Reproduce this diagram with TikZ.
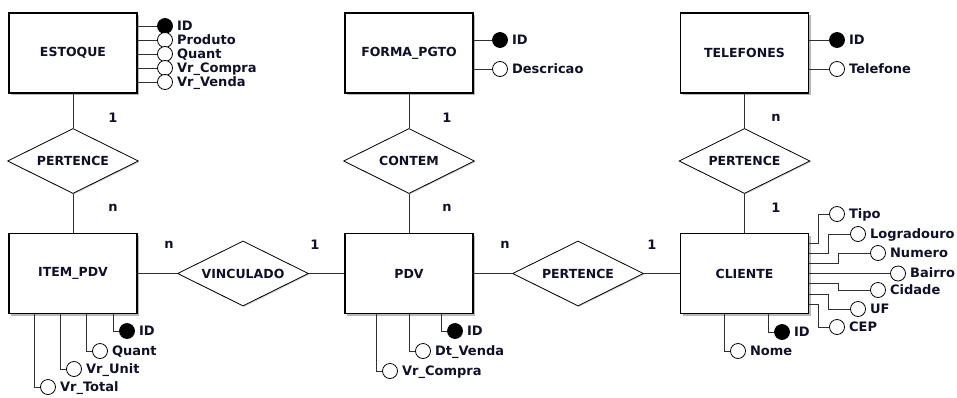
\documentclass[tikz,border=0pt]{standalone}
\usepackage{fontspec}
\setmainfont{DejaVu Sans}
\usetikzlibrary{shapes.geometric,shadows}
\definecolor{txt}{HTML}{10102A}
\definecolor{wire}{HTML}{303030}

\begin{document}
\begin{tikzpicture}[x=1pt,y=-1pt,
  boxshadow/.style={general shadow={fill=black!28, shadow xshift=2pt, shadow yshift=-2pt}},
  entity/.style={draw=black, line width=1.1pt, fill=white, boxshadow,
    minimum width=128pt, minimum height=80pt, inner sep=0pt,
    font=\fontsize{12.5}{14}\selectfont\bfseries, text=txt},
  relation/.style={diamond, aspect=2, draw=black, line width=0.8pt, fill=white,
    general shadow={fill=black!20, shadow xshift=1pt, shadow yshift=-1pt},
    minimum width=131pt, minimum height=65pt, inner sep=0pt,
    font=\fontsize{12.5}{14}\selectfont\bfseries, text=txt},
  attr/.style={circle, draw=black, line width=0.8pt, fill=white,
    minimum size=15pt, inner sep=0pt},
  keyattr/.style={attr, fill=black},
  card/.style={font=\fontsize{13}{15}\selectfont\bfseries, text=txt, inner sep=0pt},
  conn/.style={draw=wire, line width=0.9pt},
  every label/.style={font=\fontsize{13}{15}\selectfont\bfseries, text=txt,
    inner sep=0pt, text height=9.5pt, text depth=1pt},
  label distance=4pt]

\useasboundingbox (0,0) rectangle (957,397);

% entities
\node[entity] (est)  at (73,53)      {ESTOQUE};
\node[entity] (fpg)  at (409,53)     {FORMA\_PGTO};
\node[entity] (tel)  at (744.5,53)   {TELEFONES};
\node[entity] (item) at (73,273.5)   {ITEM\_PDV};
\node[entity] (pdv)  at (409,273.5)  {PDV};
\node[entity] (cli)  at (744.5,273.5){CLIENTE};

% relationships
\node[relation] (r1) at (73,161)     {PERTENCE};
\node[relation] (r2) at (409,161)    {CONTEM};
\node[relation] (r3) at (744.5,161)  {PERTENCE};
\node[relation] (r4) at (243,273.5)  {VINCULADO};
\node[relation] (r5) at (578,273.5)  {PERTENCE};

\draw[conn] (est) -- (r1) -- (item);
\draw[conn] (fpg) -- (r2) -- (pdv);
\draw[conn] (tel) -- (r3) -- (cli);
\draw[conn] (item) -- (r4) -- (pdv);
\draw[conn] (pdv) -- (r5) -- (cli);

% cardinalities
\node[card] (k1)  at (113,118) {1};
\node[card] (k2)  at (113,208) {n};
\node[card] (k3)  at (447,118) {1};
\node[card] (k4)  at (447,208) {n};
\node[card] (k5)  at (776,118) {n};
\node[card] (k6)  at (776,208) {1};
\node[card] (k7)  at (169,245) {n};
\node[card] (k8)  at (315,245) {1};
\node[card] (k9)  at (505,245) {n};
\node[card] (k10) at (652,245) {1};

% ESTOQUE attributes
\node[keyattr, label=east:ID]         (e1) at (165,26) {};
\node[attr, label=east:Produto]       (e2) at (165,40) {};
\node[attr, label=east:Quant]         (e3) at (165,54) {};
\node[attr, label=east:Vr\_Compra]    (e4) at (165,68) {};
\node[attr, label=east:Vr\_Venda]     (e5) at (165,82) {};
\foreach \a in {e1,e2,e3,e4,e5}
  \draw[conn] (est.east |- \a) -- (\a.west);

% FORMA_PGTO attributes
\node[keyattr, label=east:ID]         (f1) at (500,40) {};
\node[attr, label=east:Descricao]     (f2) at (500,69) {};
\foreach \a in {f1,f2}
  \draw[conn] (fpg.east |- \a) -- (\a.west);

% TELEFONES attributes
\node[keyattr, label=east:ID]         (t1) at (837,40) {};
\node[attr, label=east:Telefone]      (t2) at (837,69) {};
\foreach \a in {t1,t2}
  \draw[conn] (tel.east |- \a) -- (\a.west);

% ITEM_PDV attributes
\node[keyattr, label=east:ID]         (i1) at (127,331) {};
\node[attr, label=east:Quant]         (i2) at (100,351) {};
\node[attr, label=east:Vr\_Unit]      (i3) at (74,369) {};
\node[attr, label=east:Vr\_Total]     (i4) at (48,387) {};

% PDV attributes
\node[keyattr, label=east:ID]         (p1) at (455,331) {};
\node[attr, label=east:Dt\_Venda]     (p2) at (423,351) {};
\node[attr, label=east:Vr\_Compra]    (p3) at (390,371) {};

% CLIENTE attributes below
\node[keyattr, label=east:ID]         (cb1) at (782,332) {};
\node[attr, label=east:Nome]          (cb2) at (738,351) {};

\foreach \e/\a in {item/i1,item/i2,item/i3,item/i4,pdv/p1,pdv/p2,pdv/p3,cli/cb1,cli/cb2}{
  \coordinate (\a-k) at ([xshift=-6pt]\a.west);
  \draw[conn] (\e.south -| \a-k) |- (\a.west);
}

% CLIENTE address attributes
\node[attr, label=east:Tipo]          (ca1) at (837,214) {};
\node[attr, label=east:Logradouro]    (ca2) at (858,234) {};
\node[attr, label=east:Numero]        (ca3) at (878,253) {};
\node[attr, label=east:Bairro]        (ca4) at (898,273.5) {};
\node[attr, label=east:Cidade]        (ca5) at (878,290) {};
\node[attr, label=east:UF]            (ca6) at (858,309) {};
\node[attr, label=east:CEP]           (ca7) at (837,327) {};

\draw[conn] ([yshift=-10pt]cli.north east)   -| ([xshift=-10.5pt]ca1.west) -- (ca1.west);
\draw[conn] ([yshift=-20pt]cli.north east)   -| ([xshift=-21.5pt]ca2.west) -- (ca2.west);
\draw[conn] ([yshift=-30pt]cli.north east)   -| ([xshift=-31.5pt]ca3.west) -- (ca3.west);
\draw[conn] (cli.east) -- (ca4.west);
\draw[conn] ([yshift=-50.5pt]cli.north east) -| ([xshift=-31.5pt]ca5.west) -- (ca5.west);
\draw[conn] ([yshift=-61.5pt]cli.north east) -| ([xshift=-21.5pt]ca6.west) -- (ca6.west);
\draw[conn] ([yshift=-71.5pt]cli.north east) -| ([xshift=-10.5pt]ca7.west) -- (ca7.west);

\end{tikzpicture}
\end{document}
